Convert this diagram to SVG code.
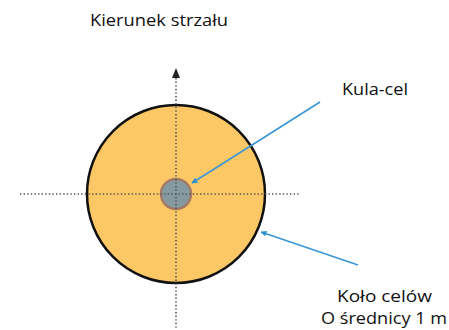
<svg xmlns="http://www.w3.org/2000/svg" width="449" height="330" viewBox="0 0 449 330">
<style>
.t{font-family:"Open Sans","Liberation Sans",sans-serif;font-size:16px;fill:#111}
.dot{stroke:#555;stroke-width:1.6;stroke-dasharray:1.4 2.2;fill:none}
.blue{stroke:#3a96d4;stroke-width:1.6;fill:none}
</style>
<defs>
<marker id="ab" viewBox="0 0 10 10" refX="9" refY="5" markerWidth="6" markerHeight="6" orient="auto" markerUnits="userSpaceOnUse">
<path d="M0,0 L10,5 L0,10 z" fill="#2f8ed0"/>
</marker>
</defs>
<rect width="449" height="330" fill="#fff"/>
<g id="circle-big">
<circle cx="176" cy="194" r="89" fill="#fcc866" stroke="#111" stroke-width="2.5"/>
</g>
<g id="circle-small">
<circle cx="176" cy="194" r="15" fill="#849aa0" stroke="#a47a66" stroke-width="2.5"/>
</g>
<g id="connectors">
<line class="dot" x1="20" y1="194" x2="300" y2="194"/>
<line class="dot" x1="176" y1="78" x2="176" y2="330"/>
<path d="M176,68 L172,78 L180,78 z" fill="#222"/>
<line class="blue" x1="320" y1="102" x2="192" y2="183" marker-end="url(#ab)"/>
<line class="blue" x1="358" y1="265" x2="261" y2="232" marker-end="url(#ab)"/>
</g>
<g id="labels">
<text class="t" x="90" y="26" textLength="138" lengthAdjust="spacingAndGlyphs">Kierunek strzału</text>
<text class="t" x="342" y="95" textLength="66" lengthAdjust="spacingAndGlyphs">Kula-cel</text>
<text class="t" x="337" y="302" textLength="95" lengthAdjust="spacingAndGlyphs">Koło celów</text>
<text class="t" x="321" y="324" textLength="126" lengthAdjust="spacingAndGlyphs">O średnicy 1 m</text>
</g>
</svg>
